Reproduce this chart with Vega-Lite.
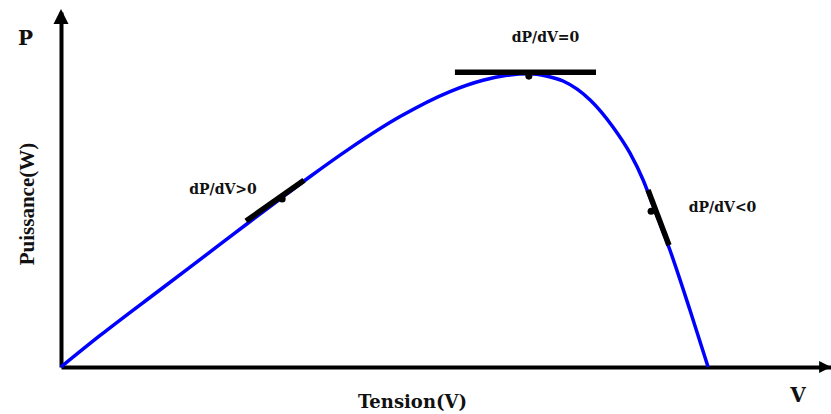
{
  "$schema": "https://vega.github.io/schema/vega-lite/v6.json",
  "width": 770,
  "height": 355,
  "autosize": "none",
  "padding": {"left": 61, "top": 12, "right": 0, "bottom": 47},
  "background": "white",
  "config": {"view": {"stroke": null}},
  "datasets": {
    "curve": [
      {"V": 0, "P": 0},
      {"V": 1.27, "P": 6.39},
      {"V": 3.21, "P": 15.62},
      {"V": 5.16, "P": 24.85},
      {"V": 6.14, "P": 29.51},
      {"V": 7.21, "P": 34.52},
      {"V": 8.08, "P": 38.58},
      {"V": 9.38, "P": 44.34},
      {"V": 11.01, "P": 50.79},
      {"V": 12.63, "P": 55.86},
      {"V": 13.7, "P": 58.15},
      {"V": 14.48, "P": 59.15},
      {"V": 15.23, "P": 59.47},
      {"V": 15.75, "P": 59.03},
      {"V": 16.3, "P": 58.01},
      {"V": 17.18, "P": 54.16},
      {"V": 17.92, "P": 48.68},
      {"V": 18.47, "P": 43.41},
      {"V": 18.9, "P": 37.93},
      {"V": 19.19, "P": 33.27},
      {"V": 19.77, "P": 23.73},
      {"V": 20.42, "P": 11.56},
      {"V": 21.01, "P": 0}
    ],
    "tangents": [
      {"seg": "a", "V": 6.01, "P": 29.6},
      {"seg": "a", "V": 7.89, "P": 37.9},
      {"seg": "b", "V": 12.79, "P": 59.8},
      {"seg": "b", "V": 17.37, "P": 59.8},
      {"seg": "c", "V": 19.06, "P": 35.9},
      {"seg": "c", "V": 19.74, "P": 24.7}
    ],
    "dots": [
      {"V": 7.18, "P": 34.08},
      {"V": 15.19, "P": 59.0},
      {"V": 19.16, "P": 31.6}
    ],
    "arrowUp": [{"V": 0, "P": 71.1}],
    "arrowRight": [{"V": 24.81, "P": 0}],
    "bigText": [
      {"label": "P", "V": -1.15, "P": 65.3},
      {"label": "V", "V": 23.93, "P": -7.1}
    ],
    "smallText": [
      {"label": "dP/dV=0", "V": 15.73, "P": 65.9},
      {"label": "dP/dV>0", "V": 5.26, "P": 35.1},
      {"label": "dP/dV<0", "V": 21.48, "P": 31.4}
    ]
  },
  "encoding": {
    "x": {
      "field": "V",
      "type": "quantitative",
      "scale": {"domain": [0, 25], "nice": false, "zero": false},
      "axis": {
        "domain": true,
        "domainColor": "black",
        "domainWidth": 4,
        "ticks": false,
        "labels": false,
        "grid": false,
        "title": "Tension(V)",
        "titleFont": "DejaVu Serif",
        "titleFontSize": 18,
        "titleFontWeight": "bold",
        "titleColor": "#111",
        "titleX": 351,
        "titleY": 40,
        "titleAlign": "center",
        "titleBaseline": "alphabetic",
        "titleAngle": 0
      }
    },
    "y": {
      "field": "P",
      "type": "quantitative",
      "scale": {"domain": [0, 72], "nice": false, "zero": false},
      "axis": {
        "domain": true,
        "domainColor": "black",
        "domainWidth": 4,
        "ticks": false,
        "labels": false,
        "grid": false,
        "title": "Puissance(W)",
        "titleFont": "Liberation Serif",
        "titleFontSize": 21,
        "titleFontWeight": "bold",
        "titleColor": "#111",
        "titleX": -28,
        "titleY": 191.5,
        "titleAlign": "center",
        "titleBaseline": "alphabetic",
        "titleAngle": 270
      }
    }
  },
  "layer": [
    {
      "data": {"name": "curve"},
      "mark": {"type": "line", "color": "#0000ff", "strokeWidth": 3.5, "interpolate": "monotone"}
    },
    {
      "data": {"name": "tangents"},
      "mark": {"type": "line", "color": "black", "strokeWidth": 5.5, "strokeCap": "butt"},
      "encoding": {"detail": {"field": "seg", "type": "nominal"}}
    },
    {
      "data": {"name": "dots"},
      "mark": {"type": "point", "shape": "circle", "filled": true, "color": "black", "size": 50, "opacity": 1}
    },
    {
      "data": {"name": "arrowUp"},
      "mark": {"type": "point", "shape": "M-1,1L0,-1L1,1Z", "filled": true, "color": "black", "size": 225, "opacity": 1}
    },
    {
      "data": {"name": "arrowRight"},
      "mark": {"type": "point", "shape": "M-1,-1L1,0L-1,1Z", "filled": true, "color": "black", "size": 144, "opacity": 1}
    },
    {
      "data": {"name": "bigText"},
      "mark": {"type": "text", "font": "DejaVu Serif", "fontSize": 20, "fontWeight": "bold", "color": "#111", "align": "center", "baseline": "alphabetic"},
      "encoding": {"text": {"field": "label", "type": "nominal"}}
    },
    {
      "data": {"name": "smallText"},
      "mark": {"type": "text", "font": "DejaVu Serif", "fontSize": 14, "fontWeight": "bold", "color": "#111", "align": "center", "baseline": "alphabetic"},
      "encoding": {"text": {"field": "label", "type": "nominal"}}
    }
  ]
}
